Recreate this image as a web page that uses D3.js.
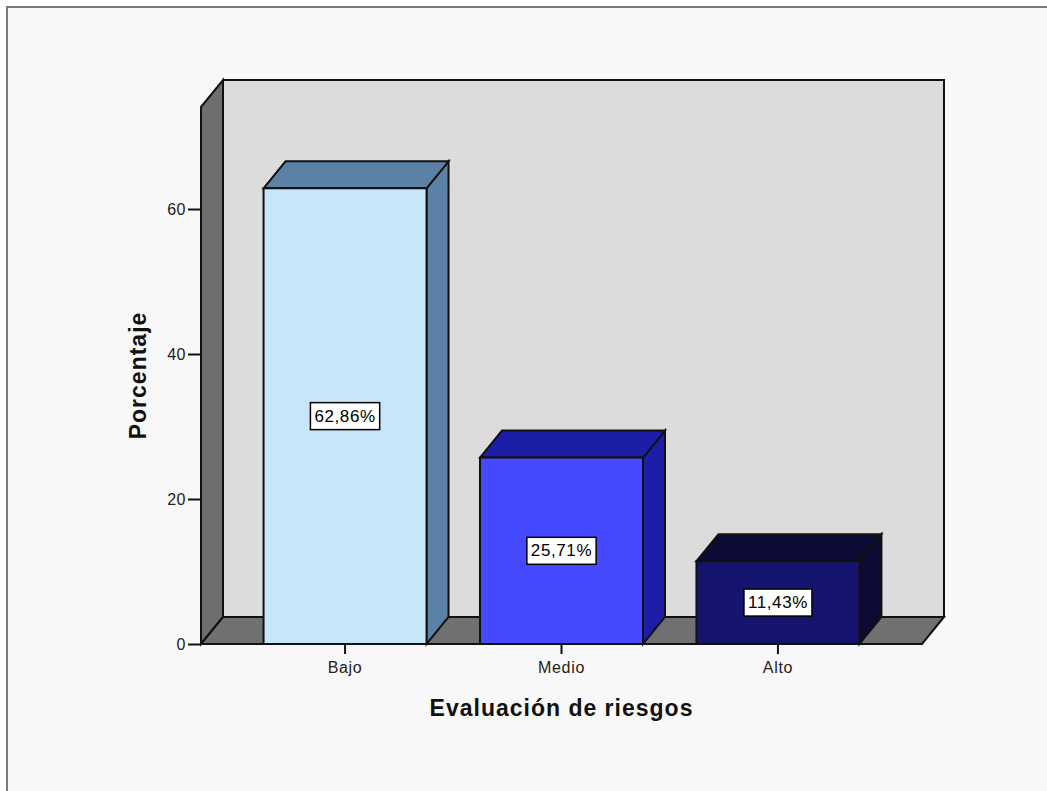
<!DOCTYPE html>
<html>
<head>
<meta charset="utf-8">
<script src="https://cdn.jsdelivr.net/npm/d3@7"></script>
<style>
  html, body { margin: 0; padding: 0; background: #ffffff; }
  svg { display: block; font-family: "Liberation Sans", Arial, sans-serif; }
</style>
</head>
<body>
<svg id="chart" width="1047" height="791"></svg>
<script>
// Evaluación de riesgos — porcentaje por nivel
const categories = ["Bajo", "Medio", "Alto"];
const percentages = [62.86, 25.71, 11.43];
const yTicks = [0, 20, 40, 60];
const xTitle = "Evaluación de riesgos";
const yTitle = "Porcentaje";

const frontColors = ["#c6e7f8", "#4549ff", "#14146e"];
const shadeColors = ["#5b81a6", "#1c1ea8", "#0b0b35"];

const svg = d3.select("#chart");
const W = 1047, H = 791;

// chart frame
svg.append("rect").attr("x", 0).attr("y", 0).attr("width", W).attr("height", H).attr("fill", "#ffffff");
svg.append("rect").attr("x", 7).attr("y", 7).attr("width", W + 20).attr("height", H + 20)
  .attr("fill", "#f8f8f8").attr("stroke", "#7a7a7a").attr("stroke-width", 2);

// plot geometry (front plane) and depth offset for the 3D walls and bars
const plotLeft = 201, plotRight = 922, plotTop = 107, plotBottom = 644;
const dx = 22, dy = 27;

const x = d3.scaleBand().domain(categories).range([plotLeft, plotRight])
  .paddingInner(0.247).paddingOuter(0.289);
const y = d3.scaleLinear().domain([0, 74.07]).range([plotBottom, plotTop]);

const wallStroke = { stroke: "#111", "stroke-width": 2, "stroke-linejoin": "miter" };
function styled(sel, attrs) { for (const k in attrs) sel.attr(k, attrs[k]); return sel; }
const poly = pts => pts.map(p => p.join(",")).join(" ");

// back wall
styled(svg.append("rect")
  .attr("x", plotLeft + dx).attr("y", plotTop - dy)
  .attr("width", plotRight - plotLeft).attr("height", plotBottom - plotTop)
  .attr("fill", "#dcdcdc"), wallStroke);

// left side wall
styled(svg.append("polygon")
  .attr("points", poly([[plotLeft, plotTop], [plotLeft + dx, plotTop - dy], [plotLeft + dx, plotBottom - dy], [plotLeft, plotBottom]]))
  .attr("fill", "#6e6e6e"), wallStroke);

// floor
styled(svg.append("polygon")
  .attr("points", poly([[plotLeft, plotBottom], [plotLeft + dx, plotBottom - dy], [plotRight + dx, plotBottom - dy], [plotRight, plotBottom]]))
  .attr("fill", "#707070"), wallStroke);

// y axis ticks and labels
const yAxis = svg.append("g").attr("transform", `translate(${plotLeft},0)`)
  .call(d3.axisLeft(y).tickValues(yTicks).tickSize(13).tickPadding(2).tickFormat(d3.format("d")));
yAxis.select(".domain").remove();
yAxis.selectAll(".tick line").attr("stroke", "#111").attr("stroke-width", 2);
yAxis.selectAll(".tick text").attr("fill", "#222").style("font-size", "16px")
  .style("letter-spacing", "0.5px").attr("font-family", "Liberation Sans, Arial, sans-serif");

// bars
const fmt = d3.formatLocale({ decimal: ",", thousands: ".", grouping: [3], currency: ["", "€"] }).format(".2f");
const bars = svg.append("g");
categories.forEach((c, i) => {
  const v = percentages[i];
  const x0 = x(c), x1 = x(c) + x.bandwidth();
  const yt = y(v), y0 = y(0);
  const g = bars.append("g");
  styled(g.append("polygon")
    .attr("points", poly([[x1, yt], [x1 + dx, yt - dy], [x1 + dx, y0 - dy], [x1, y0]]))
    .attr("fill", shadeColors[i]), wallStroke);
  styled(g.append("polygon")
    .attr("points", poly([[x0, yt], [x0 + dx, yt - dy], [x1 + dx, yt - dy], [x1, yt]]))
    .attr("fill", shadeColors[i]), wallStroke);
  styled(g.append("rect")
    .attr("x", x0).attr("y", yt).attr("width", x1 - x0).attr("height", y0 - yt)
    .attr("fill", frontColors[i]), wallStroke);

  // value label in a white box at the middle of the front face
  const cx = (x0 + x1) / 2, cy = (yt + y0) / 2;
  const lab = g.append("g");
  const t = lab.append("text")
    .attr("x", cx).attr("y", cy).attr("text-anchor", "middle").attr("dominant-baseline", "central")
    .style("font-size", "17px").style("letter-spacing", "0.6px").attr("fill", "#000")
    .text(fmt(v) + "%");
  const bb = t.node().getBBox();
  lab.insert("rect", "text")
    .attr("x", cx - (bb.width + 8) / 2).attr("y", cy - 13.5)
    .attr("width", bb.width + 8).attr("height", 27)
    .attr("fill", "#ffffff").attr("stroke", "#000").attr("stroke-width", 1.5);
});

// x axis ticks and labels
const xAxis = svg.append("g").attr("transform", `translate(0,${plotBottom})`)
  .call(d3.axisBottom(x).tickSize(10).tickPadding(8));
xAxis.select(".domain").remove();
xAxis.selectAll(".tick line").attr("stroke", "#111").attr("stroke-width", 2);
xAxis.selectAll(".tick text").attr("fill", "#222").style("font-size", "16px")
  .style("letter-spacing", "0.7px").attr("font-family", "Liberation Sans, Arial, sans-serif");

// axis titles
svg.append("text")
  .attr("x", (plotLeft + plotRight) / 2).attr("y", 716).attr("text-anchor", "middle")
  .style("font-size", "23px").style("font-weight", "bold").style("letter-spacing", "1px")
  .attr("fill", "#111").text(xTitle);

svg.append("text")
  .attr("transform", `translate(146,${(plotTop + plotBottom) / 2}) rotate(-90)`)
  .attr("text-anchor", "middle")
  .style("font-size", "23px").style("font-weight", "bold").style("letter-spacing", "1px")
  .attr("fill", "#111").text(yTitle);
</script>
</body>
</html>
